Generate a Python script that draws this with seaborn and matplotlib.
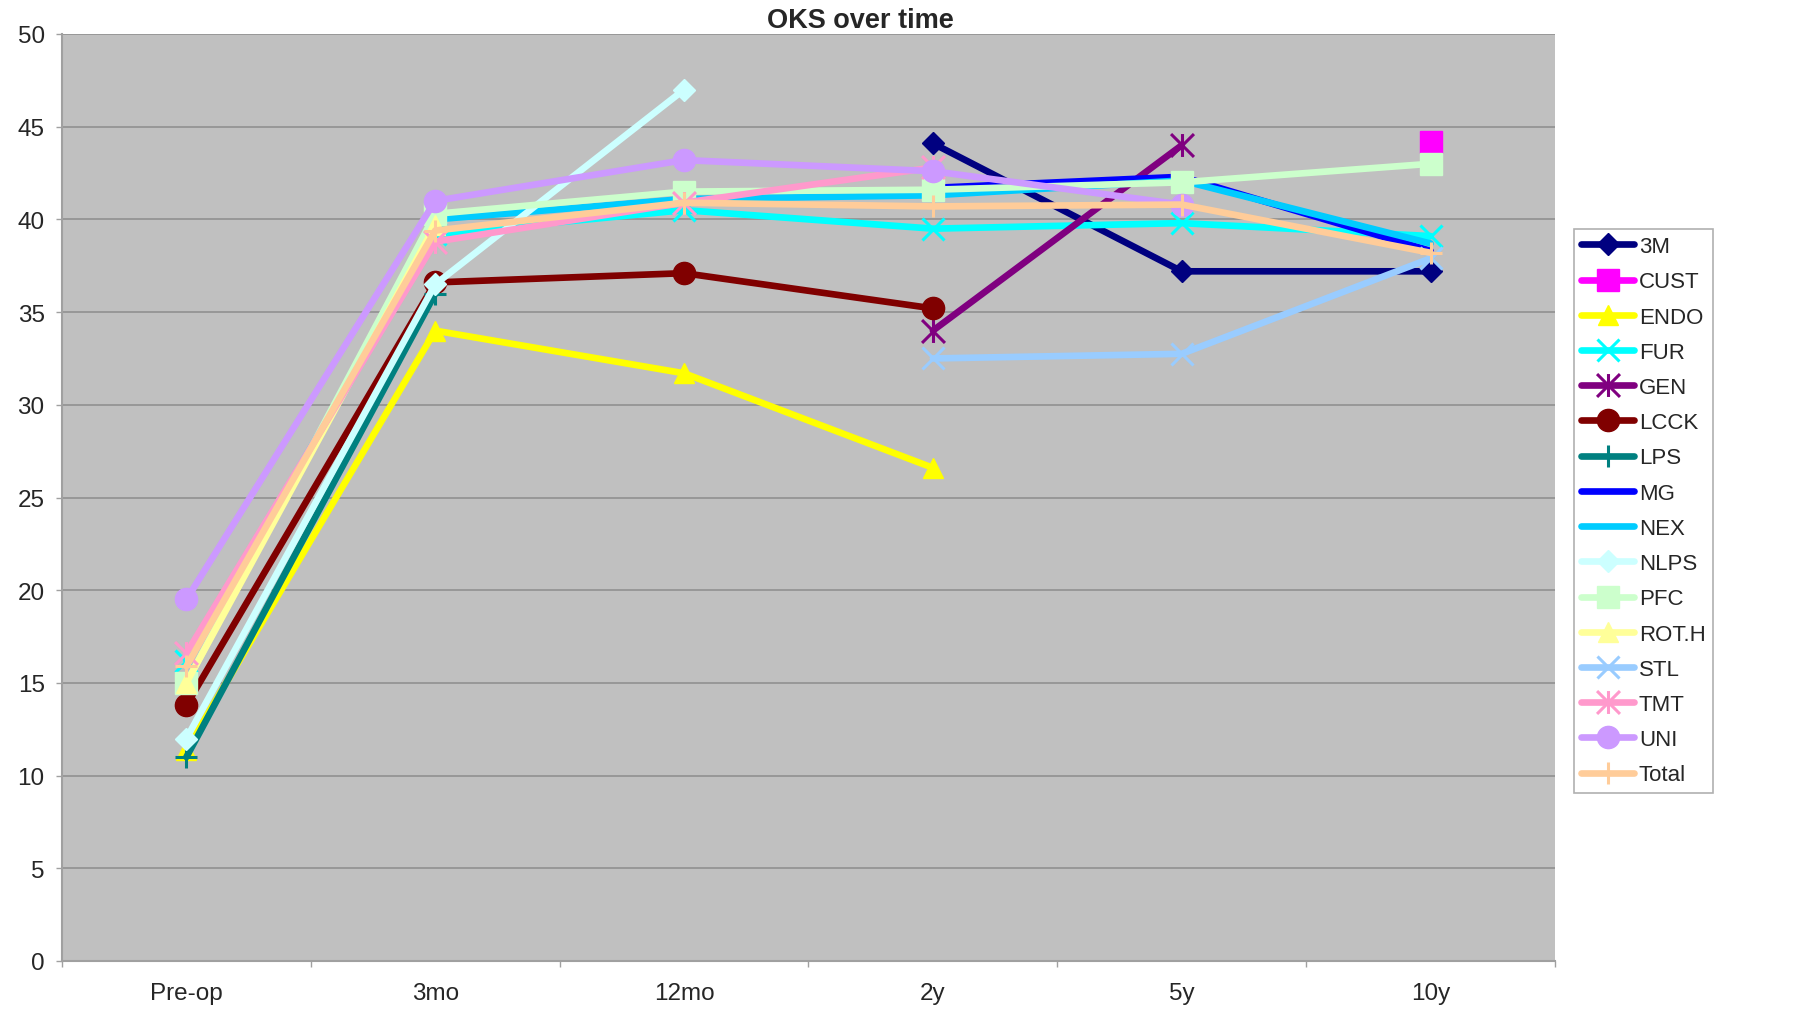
import numpy as np
import pandas as pd
import matplotlib
matplotlib.use("Agg")
import matplotlib.pyplot as plt
from matplotlib.path import Path
import seaborn as sns

# ---------------- data ----------------
categories = ["Pre-op", "3mo", "12mo", "2y", "5y", "10y"]
nan = np.nan

s_3M    = [nan, nan, nan, 44.1, 37.2, 37.2]
s_CUST  = [nan, nan, nan, nan, nan, 44.2]
s_ENDO  = [11.4, 34.0, 31.7, 26.6, nan, nan]
s_FUR   = [16.2, 39.2, 40.5, 39.5, 39.8, 39.1]
s_GEN   = [nan, nan, nan, 34.0, 44.0, nan]
s_LCCK  = [13.8, 36.6, 37.1, 35.2, nan, nan]
s_LPS   = [11.0, 36.0, nan, nan, nan, nan]
s_MG    = [nan, nan, nan, 41.7, 42.3, 38.3]
s_NEX   = [nan, 40.0, 41.1, 41.3, 42.1, 38.7]
s_NLPS  = [12.0, 36.5, 47.0, nan, nan, nan]
s_PFC   = [15.0, 40.3, 41.5, 41.6, 42.0, 43.0]
s_ROTH  = [15.0, 39.7, nan, nan, nan, nan]
s_STL   = [nan, nan, nan, 32.5, 32.75, 37.9]
s_TMT   = [16.6, 38.8, 40.9, 42.8, nan, nan]
s_UNI   = [19.5, 41.0, 43.2, 42.6, 40.8, nan]
s_Total = [15.9, 39.4, 40.9, 40.7, 40.8, 38.2]

series_names = ["3M", "CUST", "ENDO", "FUR", "GEN", "LCCK", "LPS", "MG",
                "NEX", "NLPS", "PFC", "ROT.H", "STL", "TMT", "UNI", "Total"]
series_values = [s_3M, s_CUST, s_ENDO, s_FUR, s_GEN, s_LCCK, s_LPS, s_MG,
                 s_NEX, s_NLPS, s_PFC, s_ROTH, s_STL, s_TMT, s_UNI, s_Total]

colors = ["#000080", "#FF00FF", "#FFFF00", "#00FFFF", "#800080", "#800000",
          "#008080", "#0000FF", "#00CCFF", "#CCFFFF", "#CCFFCC", "#FFFF99",
          "#99CCFF", "#FF99CC", "#CC99FF", "#FFCC99"]

# ---------------- style ----------------
sns.set_style("white")
plt.rcParams["font.family"] = ["Liberation Sans", "DejaVu Sans"]

asterisk = Path([(0, -0.5), (0, 0.5), (-0.5, -0.5), (0.5, 0.5), (-0.5, 0.5), (0.5, -0.5)],
                [Path.MOVETO, Path.LINETO, Path.MOVETO, Path.LINETO, Path.MOVETO, Path.LINETO])

marker_styles = {
    "3M": ("D", 11.5), "CUST": ("s", 15.5), "ENDO": ("^", 15), "FUR": ("x", 16.5),
    "GEN": (asterisk, 16.5), "LCCK": ("o", 16), "LPS": ("+", 16), "MG": (None, 0),
    "NEX": (None, 0), "NLPS": ("D", 11.5), "PFC": ("s", 15.5), "ROT.H": ("^", 15),
    "STL": ("x", 16.5), "TMT": (asterisk, 16.5), "UNI": ("o", 16), "Total": ("+", 16),
}

fig = plt.figure(figsize=(18.05, 10.12), dpi=100)
ax = fig.add_axes([62 / 1805, 1 - 962 / 1012, (1555 - 62) / 1805, (962 - 35) / 1012])
ax.set_facecolor("#C0C0C0")

for name, vals, col in zip(series_names, series_values, colors):
    df = pd.DataFrame({"pos": np.arange(len(categories)), "value": vals}).dropna()
    mk, ms = marker_styles[name]
    kw = dict(color=col, linewidth=4.8, label=name, solid_capstyle="round",
              solid_joinstyle="round")
    if mk is not None:
        kw.update(marker=mk, markersize=ms, markeredgecolor=col, markerfacecolor=col,
                  markeredgewidth=2.2 if (mk in ("x", "+") or isinstance(mk, Path)) else 1)
    sns.lineplot(data=df, x="pos", y="value", ax=ax, legend=False, **kw)

ax.set_xlim(-0.5, len(categories) - 0.5)
ax.set_ylim(0, 50)
ax.set_yticks(np.arange(0, 51, 5))
ax.set_xticks(np.arange(len(categories)))
ax.set_xticklabels(categories)
ax.set_xticks(np.arange(-0.5, len(categories), 1.0), minor=True)
ax.set_xlabel("")
ax.set_ylabel("")

ax.yaxis.grid(True, color="#8C8C8C", linewidth=1.1)
ax.set_axisbelow(True)
for side in ["top", "right"]:
    ax.spines[side].set_visible(False)
for side in ["left", "bottom"]:
    ax.spines[side].set_color("#A0A0A0")
    ax.spines[side].set_linewidth(1.5)

ax.tick_params(axis="y", which="major", length=4.5, width=1, color="#A0A0A0",
               labelsize=17.5, pad=8, left=True)
ax.tick_params(axis="x", which="major", length=0, labelsize=17.5, pad=15)
ax.tick_params(axis="x", which="minor", length=4.5, width=1, color="#A0A0A0", bottom=True)

fig.text(860 / 1805, 1 - 28 / 1012, "OKS over time", ha="center", va="baseline",
         fontsize=19.5, fontweight="bold")

handles, labels = ax.get_legend_handles_labels()
leg = fig.legend(handles, labels, loc="upper left",
                 bbox_to_anchor=(1574 / 1805, 1 - 230 / 1012),
                 fontsize=16, frameon=True, fancybox=False, framealpha=1,
                 edgecolor="#B0B0B0", facecolor="white", labelspacing=0.64,
                 handlelength=2.4, handletextpad=0.2, borderpad=0.32,
                 borderaxespad=0)
leg.get_frame().set_linewidth(1.2)

fig.savefig("out.png", dpi=100)
